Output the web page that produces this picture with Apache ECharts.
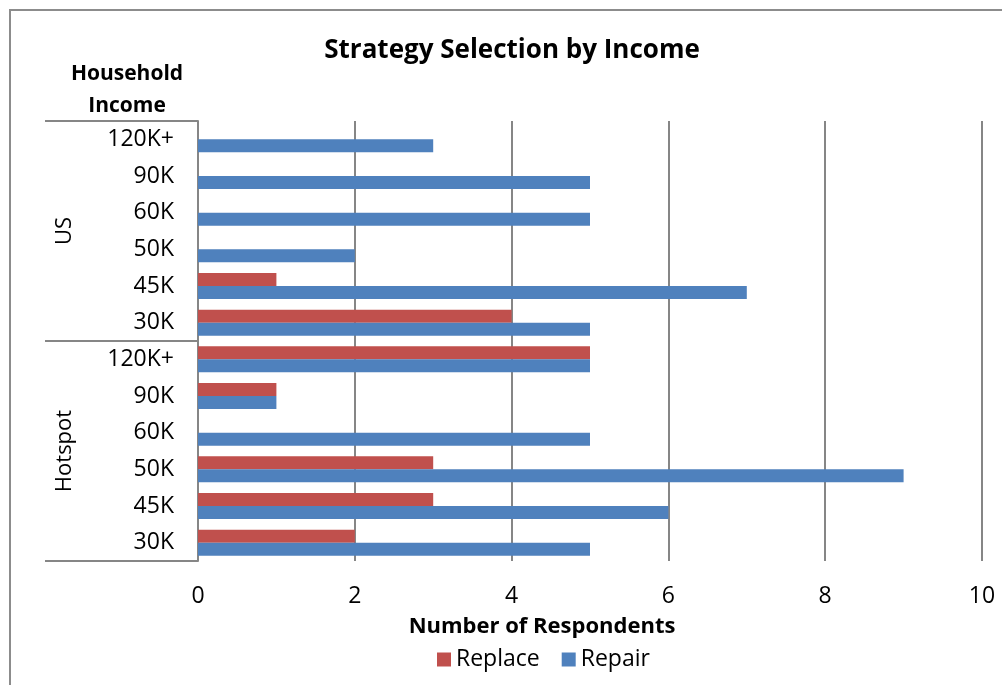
<!DOCTYPE html>
<html>
<head>
<meta charset="utf-8">
<script src="https://cdn.jsdelivr.net/npm/echarts@6/dist/echarts.min.js"></script>
<style>
html,body{margin:0;padding:0;background:#fff;}
#chart{width:1002px;height:685px;}
</style>
</head>
<body>
<div id="chart"></div>
<script>
// Categories (bottom to top)
const incomeLabels = ['30K','45K','50K','60K','90K','120K+','30K','45K','50K','60K','90K','120K+'];
const groupLabels = ['Hotspot','US'];
const replaceValues = [2, 3, 3, null, 1, 5, 4, 1, null, null, null, null];
const repairValues  = [5, 6, 9, 5, 1, 5, 5, 7, 2, 5, 5, 3];
const xTicks = [0, 2, 4, 6, 8, 10];

const FONT = 'Open Sans';
const chart = echarts.init(document.getElementById('chart'), null, {renderer: 'canvas'});
chart.setOption({
  animation: false,
  textStyle: {fontFamily: FONT},
  title: [
    {text: 'Strategy Selection by Income', left: 507, top: 33, textAlign: 'center',
     textStyle: {fontFamily: FONT, fontSize: 26, fontWeight: 'bold', color: '#000'}},
    {text: 'Household\nIncome', left: 122, top: 53, textAlign: 'center',
     textStyle: {fontFamily: FONT, fontSize: 21, fontWeight: 'bold', color: '#000', lineHeight: 32}},
    {text: 'Number of Respondents', left: 537, top: 611, textAlign: 'center',
     textStyle: {fontFamily: FONT, fontSize: 22, fontWeight: 'bold', color: '#000'}}
  ],
  graphic: [{
    type: 'rect', silent: true, z: -1,
    shape: {x: 10, y: 10, width: 1100, height: 800},
    style: {fill: 'none', stroke: '#8c8c8c', lineWidth: 2}
  }],
  legend: {
    top: 643, left: 432, icon: 'rect', itemWidth: 14, itemHeight: 14, itemGap: 22,
    textStyle: {fontFamily: FONT, fontSize: 23, color: '#000'},
    data: ['Replace', 'Repair']
  },
  grid: {left: 198, right: 20, top: 121, bottom: 124, containLabel: false},
  xAxis: {
    type: 'value', min: 0, max: 10, interval: 2,
    axisLine: {show: false}, axisTick: {show: false},
    axisLabel: {fontFamily: FONT, fontSize: 23, color: '#000', margin: 24,
      formatter: v => xTicks.includes(v) ? String(v) : ''},
    splitLine: {show: true, lineStyle: {color: '#868686', width: 2}}
  },
  yAxis: [{
    type: 'category', data: incomeLabels, position: 'left',
    axisLine: {show: true, lineStyle: {color: '#868686', width: 2}},
    axisTick: {show: false},
    axisLabel: {fontFamily: FONT, fontSize: 23, color: '#000', margin: 24}
  }, {
    type: 'category', data: groupLabels, position: 'left', offset: 153,
    axisLine: {show: false},
    axisTick: {show: true, inside: true, length: 153, lineStyle: {color: '#868686', width: 2}},
    axisLabel: {inside: true, rotate: 90, fontFamily: FONT, fontSize: 22, color: '#000', margin: 20,
      verticalAlign: 'middle', align: 'center'}
  }],
  series: [{
    name: 'Replace', type: 'bar', yAxisIndex: 0, data: replaceValues,
    itemStyle: {color: '#C0504D'}, barGap: '0%', barCategoryGap: '29%'
  }, {
    name: 'Repair', type: 'bar', yAxisIndex: 0, data: repairValues,
    itemStyle: {color: '#4F81BD'}, barGap: '0%', barCategoryGap: '29%'
  }]
});
</script>
</body>
</html>
